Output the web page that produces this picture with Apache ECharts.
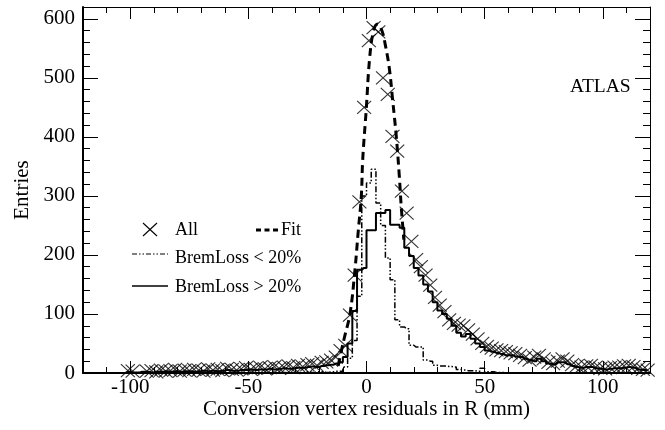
<!DOCTYPE html>
<html><head><meta charset="utf-8">
<script src="https://cdn.jsdelivr.net/npm/echarts@6/dist/echarts.min.js"></script>
<style>html,body{margin:0;padding:0;background:#fff}#c{width:665px;height:430px}</style>
</head><body><div id="c"></div>
<script>
// bin centres (mm), 2 mm bins from -120 to 120
const binCenters = [];
for (let i = 0; i < 120; i++) binCenters.push(-119 + 2 * i);

// "All" entries per bin (null = empty bin, no marker)
const allValues = [
  null,null,null,null,null,null,null,null,null, // -119..-103
  4,3,null,null,3,4,2,5,3,4,                   // -101..-83
  6,3,5,4,6,5,3,7,5,6,                          // -81..-63
  4,8,6,5,7,9,6,8,10,7,                         // -61..-43
  9,11,8,10,12,9,13,11,14,16,                   // -41..-23
  13,18,19,22,27,38,47,98,166,290,              // -21..-3
  450,563,585,578,500,472,401,376,308,271,      // -1..17
  223,192,180,166,149,128,115,104,90,84,        // 19..37
  81,80,73,66,58,50,45,42,39,38,                // 39..57
  36,34,33,30,26,22,27,30,24,18,                // 59..77
  16,20,24,20,14,12,10,12,13,10,                // 79..97
  8,7,9,10,10,12,13,11,8,6,5                    // 99..119
];

// BremLoss > 20% histogram
const bremHigh = [
  0,0,0,0,0,0,0,0,0,                            // -119..-103
  2,1,1,2,2,1,2,2,3,2,                          // -101..-83
  3,2,3,3,2,3,4,3,4,3,                          // -81..-63
  4,5,4,4,5,5,6,5,6,6,                          // -61..-43
  7,6,7,8,7,8,9,9,10,11,                        // -41..-23
  10,12,13,14,16,18,27,50,105,175,              // -21..-3
  178,242,242,271,271,276,251,251,246,212,      // -1..17
  198,178,165,150,138,120,106,100,92,80,        // 19..37
  68,62,66,58,50,44,38,36,34,32,                // 39..57
  30,30,28,27,24,22,20,24,20,16,                // 59..77
  15,18,18,15,12,10,9,10,10,8,                  // 79..97
  7,6,7,8,8,9,10,9,6,5,4                        // 99..119
];

// BremLoss < 20% histogram
const bremLow = [
  0,0,0,0,0,0,0,0,0,
  0,0,0,0,0,0,0,0,0,0,
  0,0,0,0,0,0,0,0,0,0,
  0,0,0,0,0,0,0,0,0,0,
  0,0,0,1,0,1,1,1,2,1,                          // -41..-23
  2,2,1,2,3,3,10,25,55,130,                     // -21..-3
  300,322,345,288,250,195,158,90,78,75,         // -1..17
  47,44,44,22,20,13,12,12,11,10,                // 19..37
  6,5,4,4,3,8,2,2,1,1,                          // 39..57
  0,0,0,0,0,0,0,0,0,0,
  0,0,0,0,0,0,0,0,0,0,
  0,0,0,0,0,0,0,0,0,0,0
];

// Fit curve (x, y)
const fitX = [-12, -10.5, -9.3, -7, -5, -3.5, -2.2, -1.6, -0.1, 1.3, 3, 4.8, 6.5, 8, 9.7, 11, 12.6, 13.9, 14.7, 15.8];
const fitY = [12, 40, 61, 100, 170, 240, 299, 362, 447, 532, 580, 591, 580, 555, 515, 465, 401, 333, 282, 226];

const xMajorTicks = [-100, -50, 0, 50, 100];
const yMajorTicks = [0, 100, 200, 300, 400, 500, 600];

const SERIF = '"Liberation Serif","Times New Roman",serif';
const zip = (a, b) => a.map((v, i) => [v, b[i]]);
const allData = binCenters.map((x, i) => [x, allValues[i]]).filter(d => d[1] !== null);

const chart = echarts.init(document.getElementById('c'), null, {renderer: 'canvas'});
const baseX = {type: 'value', min: -120, max: 120, splitLine: {show: false}};
const baseY = {type: 'value', min: 0, max: 620, splitLine: {show: false}};
const blk = {color: '#000', width: 1};
const noLine = {show: false, onZero: false};

chart.setOption({
  animation: false,
  backgroundColor: '#fff',
  grid: {left: 83, right: 15, top: 7, bottom: 57, containLabel: false},
  xAxis: [
    Object.assign({}, baseX, {position: 'bottom',
      axisLine: {show: true, onZero: false, lineStyle: {color: '#000', width: 2}},
      axisTick: {show: true, inside: true, length: 12, customValues: xMajorTicks, lineStyle: blk},
      axisLabel: {show: true, customValues: xMajorTicks, fontFamily: SERIF, fontSize: 21, color: '#000', margin: 4},
      name: 'Conversion vertex residuals in R (mm)', nameLocation: 'middle', nameGap: 26, nameMoveOverlap: false,
      nameTextStyle: {fontFamily: SERIF, fontSize: 21, color: '#000'}}),
    Object.assign({}, baseX, {position: 'bottom', interval: 10,
      axisLine: noLine, axisLabel: {show: false},
      axisTick: {show: true, inside: true, length: 6, lineStyle: blk}}),
    Object.assign({}, baseX, {position: 'top',
      axisLine: {show: true, onZero: false, lineStyle: {color: '#000', width: 1}},
      axisTick: {show: true, inside: true, length: 12, customValues: xMajorTicks, lineStyle: blk},
      axisLabel: {show: false}}),
    Object.assign({}, baseX, {position: 'top', interval: 10,
      axisLine: noLine, axisLabel: {show: false},
      axisTick: {show: true, inside: true, length: 6, lineStyle: blk}})
  ],
  yAxis: [
    Object.assign({}, baseY, {position: 'left',
      axisLine: {show: true, onZero: false, lineStyle: {color: '#000', width: 2}},
      axisTick: {show: true, inside: true, length: 15, customValues: yMajorTicks, lineStyle: blk},
      axisLabel: {show: true, customValues: yMajorTicks, fontFamily: SERIF, fontSize: 21, color: '#000', margin: 8},
      name: 'Entries', nameLocation: 'middle', nameGap: 50, nameRotate: 90, nameMoveOverlap: false,
      nameTextStyle: {fontFamily: SERIF, fontSize: 21, color: '#000'}}),
    Object.assign({}, baseY, {position: 'left', interval: 20,
      axisLine: noLine, axisLabel: {show: false},
      axisTick: {show: true, inside: true, length: 7, lineStyle: blk}}),
    Object.assign({}, baseY, {position: 'right',
      axisLine: {show: true, onZero: false, lineStyle: {color: '#000', width: 1}},
      axisTick: {show: true, inside: true, length: 15, customValues: yMajorTicks, lineStyle: blk},
      axisLabel: {show: false}}),
    Object.assign({}, baseY, {position: 'right', interval: 20,
      axisLine: noLine, axisLabel: {show: false},
      axisTick: {show: true, inside: true, length: 7, lineStyle: blk}})
  ],
  series: [
    {name: 'BremLoss > 20%', type: 'line', step: 'middle', data: zip(binCenters, bremHigh),
      showSymbol: false, lineStyle: {color: '#000', width: 2}, z: 2, silent: true},
    {name: 'BremLoss < 20%', type: 'line', step: 'middle', data: zip(binCenters, bremLow),
      showSymbol: false, lineStyle: {color: '#000', width: 1.5, type: [6, 2, 1.5, 2, 1.5, 2]}, z: 3, silent: true},
    {name: 'Fit', type: 'line', smooth: 0.4, data: zip(fitX, fitY),
      showSymbol: false, lineStyle: {color: '#000', width: 3, type: [8, 5]}, z: 4, silent: true},
    {name: 'All', type: 'scatter', data: allData, clip: false,
      symbol: 'path://M0,0L10,10M10,0L0,10', symbolSize: [14, 13],
      itemStyle: {color: 'rgba(0,0,0,0)', borderColor: '#000', borderWidth: 1.1}, z: 5, silent: true}
  ],
  graphic: [
    {type: 'text', x: 570, y: 87, style: {text: 'ATLAS', font: '19.5px ' + SERIF, fill: '#000', verticalAlign: 'middle'}},
    {type: 'line', shape: {x1: 143, y1: 223, x2: 157, y2: 236}, style: {stroke: '#000', lineWidth: 1.1}},
    {type: 'line', shape: {x1: 157, y1: 223, x2: 143, y2: 236}, style: {stroke: '#000', lineWidth: 1.1}},
    {type: 'text', x: 175, y: 230, style: {text: 'All', font: '18px ' + SERIF, fill: '#000', verticalAlign: 'middle'}},
    {type: 'line', shape: {x1: 256, y1: 230, x2: 278, y2: 230}, style: {stroke: '#000', lineWidth: 3, lineDash: [5, 3.5]}},
    {type: 'text', x: 281, y: 230, style: {text: 'Fit', font: '18px ' + SERIF, fill: '#000', verticalAlign: 'middle'}},
    {type: 'line', shape: {x1: 132, y1: 254, x2: 168, y2: 254}, style: {stroke: '#000', lineWidth: 1.2, lineDash: [5, 2, 1.5, 2, 1.5, 2]}},
    {type: 'text', x: 175, y: 258, style: {text: 'BremLoss < 20%', font: '18px ' + SERIF, fill: '#000', verticalAlign: 'middle'}},
    {type: 'line', shape: {x1: 132, y1: 286, x2: 168, y2: 286}, style: {stroke: '#000', lineWidth: 1.5}},
    {type: 'text', x: 175, y: 287, style: {text: 'BremLoss > 20%', font: '18px ' + SERIF, fill: '#000', verticalAlign: 'middle'}}
  ]
});
</script>
</body></html>
